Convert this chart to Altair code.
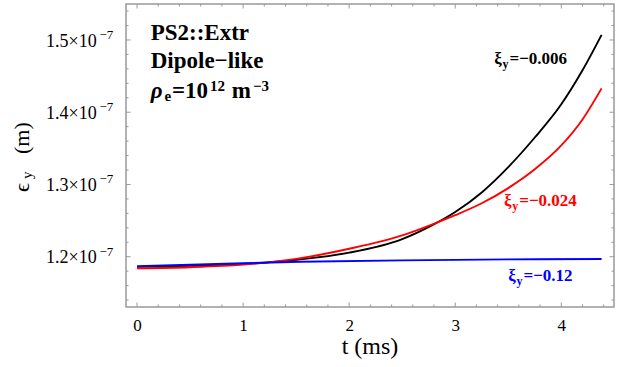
import altair as alt
import pandas as pd

# ---- data (emittance in units of 1e-7 m, time in ms) ----
t_black = [0.0, 0.5, 1.0, 1.5, 2.0, 2.5, 2.78, 3.0, 3.25, 3.5, 3.75, 4.0, 4.2, 4.38]
e_black = [1.186, 1.1875, 1.190, 1.1957, 1.2056, 1.2245, 1.2435, 1.262, 1.289, 1.324, 1.365, 1.411, 1.458, 1.507]

t_red = [0.0, 0.5, 1.0, 1.5, 2.0, 2.5, 2.78, 3.0, 3.25, 3.5, 3.75, 4.0, 4.2, 4.38]
e_red = [1.184, 1.1855, 1.189, 1.197, 1.211, 1.2295, 1.2445, 1.2575, 1.274, 1.295, 1.321, 1.354, 1.390, 1.433]

t_blue = [0.0, 1.0, 1.54, 2.5, 3.5, 4.38]
e_blue = [1.187, 1.191, 1.193, 1.195, 1.1963, 1.1968]

x_major = [0, 1, 2, 3, 4]
x_minor = [0.2, 0.4, 0.6, 0.8, 1.2, 1.4, 1.6, 1.8, 2.2, 2.4, 2.6, 2.8, 3.2, 3.4, 3.6, 3.8, 4.2, 4.4]
y_major = [1.2, 1.3, 1.4, 1.5]
y_minor = [1.14, 1.16, 1.18, 1.22, 1.24, 1.26, 1.28, 1.32, 1.34, 1.36, 1.38,
           1.42, 1.44, 1.46, 1.48, 1.52, 1.54]
y_labels = ["1.2×10", "1.3×10", "1.4×10", "1.5×10"]
y_exp = "−7"

W, H = 488, 303
GRAY = "#999999"
SERIF = "'Liberation Serif', 'Times New Roman', 'DejaVu Serif', serif"

rows = []
for name, ts, es in [("a", t_black, e_black), ("b", t_red, e_red), ("c", t_blue, e_blue)]:
    for t, e in zip(ts, es):
        rows.append({"series": name, "t": t, "eps": e})
df = pd.DataFrame(rows)

xs = alt.Scale(domain=[-0.104, 4.497], nice=False, zero=False)
ys = alt.Scale(domain=[1.1304, 1.5498], nice=False, zero=False)
x_axis = alt.Axis(values=x_major, labelFont=SERIF, labelFontSize=17, labelColor="black",
                  domain=False, ticks=False, tickSize=0, grid=False, labelPadding=10, title=None)

lines = alt.Chart(df).mark_line(strokeWidth=1.9, interpolate="monotone").encode(
    x=alt.X("t:Q", scale=xs, axis=x_axis),
    y=alt.Y("eps:Q", scale=ys, axis=None),
    color=alt.Color("series:N", scale=alt.Scale(domain=["a", "b", "c"], range=["black", "red", "blue"]), legend=None),
)

def xticks(vals, length):
    d = pd.DataFrame({"t": vals})
    b = alt.Chart(d).mark_rule(color=GRAY, strokeWidth=1).encode(
        x=alt.X("t:Q", scale=xs, axis=x_axis), y=alt.value(H), y2=alt.value(H - length))
    tp = alt.Chart(d).mark_rule(color=GRAY, strokeWidth=1).encode(
        x=alt.X("t:Q", scale=xs, axis=x_axis), y=alt.value(0), y2=alt.value(length))
    return [b, tp]

def yticks(vals, length):
    d = pd.DataFrame({"eps": vals})
    l = alt.Chart(d).mark_rule(color=GRAY, strokeWidth=1).encode(
        y=alt.Y("eps:Q", scale=ys, axis=None), x=alt.value(0), x2=alt.value(length))
    r = alt.Chart(d).mark_rule(color=GRAY, strokeWidth=1).encode(
        y=alt.Y("eps:Q", scale=ys, axis=None), x=alt.value(W), x2=alt.value(W - length))
    return [l, r]

tick_layers = xticks(x_major, 4.5) + xticks(x_minor, 2.5) + yticks(y_major, 4.5) + yticks(y_minor, 2.5)

ylab_df = pd.DataFrame({"eps": y_major, "lab": y_labels, "exp": [y_exp] * 4})
ylab_main = alt.Chart(ylab_df).mark_text(align="right", baseline="alphabetic", dy=6.7,
                                         font=SERIF, fontSize=18, color="black").encode(
    x=alt.value(-29.3), y=alt.Y("eps:Q", scale=ys, axis=None), text="lab:N")
ylab_exp = alt.Chart(ylab_df).mark_text(align="right", baseline="alphabetic", dy=-1,
                                        font=SERIF, fontSize=13, color="black").encode(
    x=alt.value(-12.7), y=alt.Y("eps:Q", scale=ys, axis=None), text="exp:N")

one = pd.DataFrame({"k": [0]})

def txt(s, x, y, size, color="black", bold=True, italic=False, angle=None, align="left"):
    kw = dict(text=s, align=align, baseline="alphabetic", font=SERIF, fontSize=size,
              color=color, fontWeight="bold" if bold else "normal")
    if italic:
        kw["fontStyle"] = "italic"
    if angle is not None:
        kw["angle"] = angle
    return alt.Chart(one).mark_text(**kw).encode(x=alt.value(x), y=alt.value(y))

ann = [
    txt("PS2::Extr", 24.7, 36, 23),
    txt("Dipole−like", 24.7, 64.3, 23),
    txt("ρ", 24.7, 94.3, 23, italic=True),
    txt("e", 38.5, 96.5, 15),
    txt("=10", 46, 94.3, 23),
    txt("12", 84, 86.5, 15),
    txt("m", 105.7, 94.3, 23),
    txt("−3", 127, 86.5, 15),
    # series labels
    txt("ξ", 368.3, 60.3, 17),
    txt("y", 376.5, 64.3, 12),
    txt("=−0.006", 383.5, 60.3, 17),
    txt("ξ", 378, 202, 17, color="red"),
    txt("y", 386.2, 206, 12, color="red"),
    txt("=−0.024", 393.2, 202, 17, color="red"),
    txt("ξ", 382.3, 277, 17, color="blue"),
    txt("y", 390.5, 281, 12, color="blue"),
    txt("=−0.12", 397.5, 277, 17, color="blue"),
    # axis titles
    txt("t (ms)", 244, 350, 24, bold=False, align="center"),
    txt("ϵ", 28.5 - 126, 192 - 4, 22, bold=False, angle=270),
    txt("y", 32 - 126, 179 - 4, 15, bold=False, angle=270),
    txt("(m)", 28.5 - 126, 154 - 4, 22, bold=False, angle=270),
]

chart = alt.layer(lines, *tick_layers, ylab_main, ylab_exp, *ann).properties(
    width=W, height=H, autosize="none",
    padding={"left": 126, "top": 4, "right": 4, "bottom": 60},
    background="white",
).configure_view(stroke=GRAY, strokeWidth=1.5)

chart.save("out.html", embed_options={"renderer": "svg", "actions": False})
